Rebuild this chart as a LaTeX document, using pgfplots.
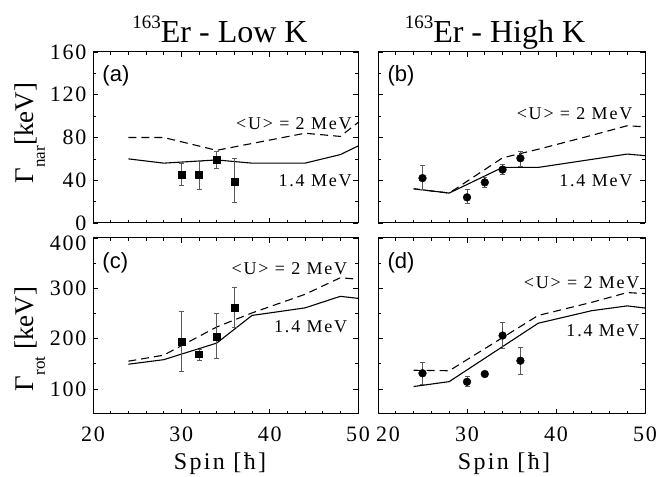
\documentclass[border=0pt]{standalone}
\usepackage{pgfplots}
\pgfplotsset{compat=1.18}
\usepackage{fontspec}
\setmainfont{Liberation Serif}
\setsansfont{Liberation Sans}
\newfontfamily\lsp{Liberation Serif}[LetterSpace=8]
\newfontfamily\lspa{Liberation Serif}[LetterSpace=10]
\pgfplotsset{
  panel/.style={
    scale only axis, width=265pt,
    xmin=20, xmax=50, xtick={20,30,40,50}, minor x tick num=4,
    tick align=inside, xtick pos=both, ytick pos=both,
    major tick length=5pt, minor tick length=3pt,
    axis line style={line width=1pt},
    every tick/.style={black, line width=0.7pt},
    ticklabel style={font=\lsp\fontsize{22}{22}\selectfont},
    xticklabel style={yshift=-9pt},
    yticklabel style={xshift=-3pt},
    /pgf/number format/assume math mode=true,
    clip=false,
  },
  th/.style={black, line width=1.1pt, mark=none},
  thd/.style={black, line width=1.1pt, mark=none, dash pattern=on 8pt off 5pt},
  dat/.style={only marks, black, mark options={fill=black},
    error bars/y dir=both, error bars/y explicit,
    error bars/error bar style={line width=0.9pt, gray!70!black},
    error bars/error mark options={rotate=90, mark size=2.5pt, line width=0.9pt, gray!70!black}},
  sq/.style={dat, mark=square*, mark size=3.4pt},
  ci/.style={dat, mark=*, mark size=3.9pt},
}
\tikzset{
  ann/.style={font=\lspa\fontsize{18}{18}\selectfont, anchor=east, inner sep=0pt},
  plab/.style={font=\sffamily\fontsize{22}{22}\selectfont, anchor=north west, inner sep=0pt},
}
\begin{document}
\begin{tikzpicture}
\path[use as bounding box] (0,0) rectangle (662pt,477pt);
% (a)
\begin{axis}[panel, at={(93pt,254pt)}, anchor=south west, height=171pt,
  ymin=0, ymax=160, ytick={0,40,80,120,160}, minor y tick num=1, xticklabels={}]
\addplot[thd] coordinates {(24,80) (28,80) (34,68) (44,84) (48,81) (50,94)};
\addplot[th] coordinates {(24,60) (28,56) (34,59) (38,56) (44,56) (48,64) (50,72)};
\addplot[sq] coordinates {(30,45) += (0,11) -= (0,10) (32,45) += (0,13) -= (0,14)
  (34,59) += (0,8) -= (0,8) (36,39) += (0,21) -= (0,20)};
\node[ann] at (axis cs:49.3,93) {<U> = 2 MeV};
\node[ann] at (axis cs:49.3,40) {1.4 MeV};
\node[plab] at (rel axis cs:0.035,0.92) {(a)};
\end{axis}
% (b)
\begin{axis}[panel, at={(378pt,254pt)}, anchor=south west, height=171pt, width=267pt,
  ymin=0, ymax=160, ytick={0,40,80,120,160}, minor y tick num=1, xticklabels={}, yticklabels={}]
\addplot[thd] coordinates {(24,32) (28,28) (34,61) (38,69) (44,82) (48,91) (50,90)};
\addplot[th] coordinates {(24,32) (28,28) (34,52) (38,52) (48,64.5) (50,63)};
\addplot[ci] coordinates {(25,42) += (0,12) -= (0,11) (30,24) += (0,7) -= (0,6)
  (32,38) += (0,5) -= (0,4.5) (34,50) += (0,5) -= (0,5) (36,60.6) += (0,6.4) -= (0,7.6)};
\node[ann] at (axis cs:48.6,102) {<U> = 2 MeV};
\node[ann] at (axis cs:48.6,40) {1.4 MeV};
\node[plab] at (rel axis cs:0.035,0.92) {(b)};
\end{axis}
% (c)
\begin{axis}[panel, at={(93pt,63pt)}, anchor=south west, height=176pt,
  ymin=50, ymax=400, ytick={100,200,300}, minor ytick={150,250,350},
  extra y ticks={400}, extra y tick style={yticklabel style={yshift=-5pt}}]
\addplot[thd] coordinates {(24,155) (28,167) (34,223) (38,251) (44,288) (48,321) (50,318)};
\addplot[th] coordinates {(24,149) (28,158) (34,191) (38,246) (44,261) (48,284) (50,280)};
\addplot[sq] coordinates {(30,193) += (0,60) -= (0,59) (32,169) += (0,10) -= (0,12)
  (34,204) += (0,46) -= (0,44) (36,262) += (0,39) -= (0,39)};
\node[ann] at (axis cs:48.8,339) {<U> = 2 MeV};
\node[ann] at (axis cs:48.8,223) {1.4 MeV};
\node[plab] at (rel axis cs:0.035,0.92) {(c)};
\end{axis}
% (d)
\begin{axis}[panel, at={(378pt,63pt)}, anchor=south west, height=176pt, width=267pt,
  ymin=50, ymax=400, ytick={100,200,300,400}, minor y tick num=1, yticklabels={},
  xticklabels={\hspace{20pt}20,30,40,50}]
\addplot[thd] coordinates {(24,137) (28,136) (38,246) (44,272) (48,291.5) (50,289.5)};
\addplot[th] coordinates {(24,104.6) (28,114.4) (38,230.5) (44,255.4) (48,265) (50,260.7)};
\addplot[ci] coordinates {(25,131) += (0,21) -= (0,22) (30,114) += (0,10) -= (0,9)
  (32,129.5) (34,206) += (0,26) -= (0,26) (36,156) += (0,26) -= (0,27)};
\node[ann] at (axis cs:49.4,311) {<U> = 2 MeV};
\node[ann] at (axis cs:49.4,216) {1.4 MeV};
\node[plab] at (rel axis cs:0.035,0.92) {(d)};
\end{axis}
% titles
\node[anchor=base, inner sep=0pt] at (220pt,434pt) {\fontsize{32}{32}\selectfont\raisebox{0.45em}{\fontsize{19}{19}\selectfont 163}Er - Low K};
\node[anchor=base, inner sep=0pt] at (495pt,434pt) {\fontsize{32}{32}\selectfont\raisebox{0.45em}{\fontsize{19}{19}\selectfont 163}Er - High K};
% y labels
\node[rotate=90, anchor=base, inner sep=0pt] at (34pt,344pt) {\fontsize{27}{27}\selectfont Γ\raisebox{-0.4em}{\fontsize{17}{17}\selectfont nar}[keV]};
\node[rotate=90, anchor=base, inner sep=0pt] at (34pt,138pt) {\fontsize{27}{27}\selectfont Γ\raisebox{-0.4em}{\fontsize{17}{17}\selectfont rot} [keV]};
% x labels
\node[anchor=base, inner sep=0pt] at (220pt,7pt) {\lspa\fontsize{24}{24}\selectfont Spin [ħ]};
\node[anchor=base, inner sep=0pt] at (504pt,7pt) {\lspa\fontsize{24}{24}\selectfont Spin [ħ]};
\end{tikzpicture}
\end{document}
